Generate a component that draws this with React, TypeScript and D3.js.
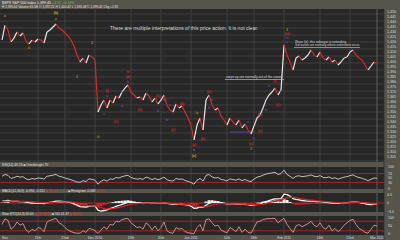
import React from "react";
import * as d3 from "d3";

const closes = [
  1422,1437,1432,1420,1424,1430,1426,1429,1421,1418,
  1422,1420,1423,1422,1419,1430,1432,1435,1438,1434,
  1432,1429,1426,1422,1416,1407,1400,1404,1399,1407,
  1405,1402,1350,1357,1362,1354,1362,1359,1366,1364,
  1370,1374,1377,1370,1367,1364,1365,1362,1369,1366,
  1360,1364,1358,1362,1367,1357,1352,1350,1358,1354,
  1356,1350,1344,1337,1322,1337,1344,1332,1362,1367,
  1357,1352,1354,1346,1342,1337,1344,1340,1337,1342,
  1334,1338,1332,1328,1336,1344,1347,1354,1362,1367,
  1370,1374,1367,1372,1417,1407,1400,1392,1404,1406,
  1402,1404,1407,1412,1407,1405,1410,1404,1402,1405,
  1400,1402,1397,1400,1404,1405,1410,1412,1407,1404,
  1402,1397,1392,1396,1400,1399,
];

const rsi = [
  58,66,62,48,52,58,54,56,46,42,
  48,45,50,49,45,58,60,63,66,58,
  55,50,46,42,37,32,30,38,34,46,
  44,40,22,35,42,36,46,44,52,50,
  56,60,62,52,48,45,47,44,54,50,
  43,48,42,47,54,42,38,36,48,44,
  46,39,34,30,22,40,48,36,62,66,
  55,50,52,44,41,37,46,43,40,46,
  38,43,37,34,45,54,57,63,68,71,
  73,76,66,70,86,66,58,48,58,60,
  56,58,60,64,58,56,61,53,51,55,
  48,51,45,49,54,56,61,64,57,52,
  49,44,38,44,50,49,
];

const macd = [
  0.6,0.8,0.9,0.7,0.6,0.6,0.5,0.5,0.3,0.1,
  0.0,-0.1,-0.1,-0.1,-0.2,0.0,0.2,0.4,0.7,0.7,
  0.6,0.5,0.3,0.1,-0.3,-0.8,-1.3,-1.4,-1.5,-1.2,
  -1.0,-1.0,-2.6,-2.9,-2.7,-2.5,-2.0,-1.7,-1.2,-0.9,
  -0.5,-0.1,0.3,0.3,0.2,0.1,0.1,0.0,0.1,0.1,
  0.0,0.0,-0.1,-0.1,0.0,-0.1,-0.3,-0.5,-0.5,-0.5,
  -0.5,-0.6,-0.8,-1.1,-1.9,-1.8,-1.5,-1.6,-0.8,-0.1,
  0.2,0.3,0.3,0.1,-0.1,-0.3,-0.3,-0.3,-0.4,-0.4,
  -0.5,-0.5,-0.6,-0.8,-0.7,-0.5,-0.3,0.1,0.5,0.9,
  1.2,1.5,1.5,1.6,3.2,3.0,2.5,1.6,1.3,1.1,
  0.9,0.8,0.7,0.7,0.6,0.5,0.5,0.4,0.2,0.1,
  0.0,0.0,-0.1,-0.1,0.0,0.1,0.2,0.3,0.3,0.2,
  0.0,-0.2,-0.5,-0.6,-0.5,-0.4,
];

const signal = [
  0.5,0.6,0.6,0.7,0.7,0.7,0.6,0.6,0.6,0.5,
  0.4,0.3,0.2,0.1,0.1,0.0,0.1,0.1,0.2,0.3,
  0.4,0.4,0.4,0.3,0.2,0.0,-0.3,-0.5,-0.8,-1.0,
  -1.0,-1.0,-1.3,-1.7,-2.0,-2.1,-2.1,-2.0,-1.8,-1.6,
  -1.3,-1.0,-0.7,-0.5,-0.3,-0.2,-0.1,0.0,0.0,0.0,
  0.0,0.0,0.0,0.0,0.0,0.0,-0.1,-0.2,-0.3,-0.4,
  -0.4,-0.5,-0.6,-0.7,-0.9,-1.1,-1.3,-1.4,-1.3,-1.1,
  -0.8,-0.5,-0.3,-0.2,-0.2,-0.2,-0.2,-0.3,-0.3,-0.3,
  -0.4,-0.4,-0.5,-0.5,-0.6,-0.6,-0.5,-0.4,-0.2,0.1,
  0.4,0.6,0.9,1.1,1.5,1.9,2.1,2.0,1.9,1.7,
  1.5,1.3,1.1,1.0,0.9,0.8,0.7,0.6,0.5,0.4,
  0.3,0.2,0.1,0.0,0.0,0.0,0.1,0.1,0.2,0.2,
  0.2,0.1,0.0,-0.2,-0.3,-0.4,
];

const stoch = [
  60,95,85,30,45,75,55,65,25,10,
  30,20,40,35,15,75,85,92,98,70,
  60,40,25,15,8,5,5,20,10,35,
  30,20,3,25,45,30,60,55,80,75,
  90,95,98,70,55,40,45,30,70,55,
  25,50,20,40,75,20,8,5,40,30,
  35,15,8,5,2,40,60,20,90,95,
  70,50,55,25,15,8,40,30,15,45,
  10,30,10,5,40,75,80,90,95,96,
  97,98,70,85,98,60,35,10,50,60,
  45,55,65,80,55,45,70,40,30,55,
  20,35,15,30,55,70,85,92,60,35,
  25,10,5,30,55,50,
];

const dateTickIdx = [0, 12, 21, 31, 43, 53, 63, 75, 84, 94, 106, 116, 125];
const dateTickLabels = ["Nov", "15th", "22nd", "Dec 2010", "13th", "20th", "Jan 2011", "10th", "18th", "Feb 2011", "14th", "22nd", "Mar 2011"];
const gridIdx = [12, 21, 31, 43, 53, 63, 75, 84, 94, 106, 116, 125];

const priceTicks = d3.range(1305, 1451, 5);
const priceGrid = d3.range(1448, 1300, -7);
const rsiTicks = [100, 70, 50, 30, 0];
const rsiBands = [70, 30];
const macdTicks = [3, 0, -3];
const stochTicks = [100, 50, 0];
const stochBands = [80, 20];

const waveIdx = [1, 9, 18, 18, 25, 30, 42, 42, 42, 35, 35, 34, 38, 32, 40, 40, 46, 52, 52, 54, 56, 60, 55, 57, 65, 64, 64, 64, 69, 70, 67, 69, 91, 89, 93, 92, 86, 88, 86, 83, 83, 82, 84, 95, 95, 95, 95];
const wavePrice = [1446, 1414, 1449, 1443, 1385, 1419, 1390, 1385, 1380, 1371, 1366, 1348, 1340, 1325, 1370, 1356, 1352, 1366, 1351, 1362, 1357, 1358, 1342, 1332, 1349, 1317, 1312, 1306, 1370, 1362, 1323, 1354, 1381, 1376, 1371, 1357, 1347, 1352, 1331, 1318, 1313, 1340, 1324, 1432, 1428, 1424, 1420];
const waveText = ["a", "b", "(b)", "c", "1", "2", "iv", "(a)", "b", "(i)", "a", "c", "(ii)", "iii", "c", "a", "(b)", "(c)", "b", "a", "c", "(d)", "b", "(e)", "iv", "(a)", "v", "(c)", "(a)", "a", "(b)", "b", "(i)", "a", "c", "(ii)", "(b)", "b", "(c)", "(c)", "2", "a", "c", "3", "(iii)", "iii", "c"];
const waveKind = ["o", "o", "y", "o", "o", "o", "r", "r", "p", "r", "p", "p", "r", "o", "p", "p", "r", "r", "p", "p", "p", "r", "p", "r", "o", "r", "o", "y", "r", "p", "r", "p", "r", "p", "p", "r", "r", "p", "r", "r", "o", "p", "p", "o", "r", "p", "p"];
const waveColors: Record<string, string> = { o: "#c8782a", r: "#d02a2a", p: "#7040b0", y: "#c8b030" };

const channelIdx = [76, 84];
const channelPrice = [1330, 1330];

const FRAME = "#57544c";
const PANEL = "#272727";
const GRID = "#454545";
const FONT = "Liberation Sans, Arial, sans-serif";

export default function App() {
  const N = closes.length;
  const x = d3.scaleLinear().domain([0, N - 1]).range([2, 377]);
  const yMain = d3.scaleLinear().domain([1305, 1450]).range([157, 12]);
  const yRsi = d3.scaleLinear().domain([0, 100]).range([189, 167]);
  const yMacd = d3.scaleLinear().domain([-3.6, 3.6]).range([213, 193]);
  const yStoch = d3.scaleLinear().domain([0, 100]).range([234, 218]);

  const rsiLine = d3.line<number>().x((_, i) => x(i)).y((d) => yRsi(d));
  const macdLine = d3.line<number>().x((_, i) => x(i)).y((d) => yMacd(d));
  const stochLine = d3.line<number>().x((_, i) => x(i)).y((d) => yStoch(d));

  const panels = [
    [9, 162],
    [167, 189],
    [193, 212],
    [216, 235],
  ];

  return (
    <svg width={400} height={240} style={{ position: "absolute", left: 0, top: 0, fontFamily: FONT }}>
      <rect x={0} y={0} width={400} height={240} fill={FRAME} />
      {panels.map(([a, b], k) => (
        <rect key={k} x={0} y={a} width={384} height={b - a} fill={PANEL} />
      ))}
      {priceGrid.map((v) => (
        <line key={v} x1={0} x2={384} y1={yMain(v)} y2={yMain(v)} stroke={GRID} strokeWidth={0.8} />
      ))}
      {panels.map(([a, b], k) =>
        gridIdx.map((i) => (
          <line key={k + "-" + i} x1={x(i)} x2={x(i)} y1={a} y2={b} stroke={i === 125 ? "#6a6a6a" : GRID} strokeWidth={0.8} />
        ))
      )}
      <line x1={384} x2={384} y1={9} y2={240} stroke="#2e2e2e" strokeWidth={0.8} />
      {priceTicks.map((v) => (
        <text key={v} x={387} y={yMain(v) + 1.3} fontSize={3.6} fill="#dedede">
          {d3.format(",")(v)}
        </text>
      ))}
      <line x1={x(channelIdx[0])} x2={x(channelIdx[1])} y1={yMain(channelPrice[0])} y2={yMain(channelPrice[1])} stroke="#7040b0" strokeWidth={0.9} />
      {closes.slice(1).map((c, k) => {
        const p = closes[k];
        const up = c >= p;
        return (
          <line key={k} x1={x(k)} y1={yMain(p)} x2={x(k + 1)} y2={yMain(c)} stroke={up ? "#ece4e4" : "#d42a2a"} strokeWidth={1.2} />
        );
      })}
      {waveIdx.map((i, k) => (
        <text key={k} x={x(i)} y={yMain(wavePrice[k]) + 1.3} fontSize={3.4} fontWeight="bold" textAnchor="middle" fill={waveColors[waveKind[k]]}>
          {waveText[k]}
        </text>
      ))}
      <text x={110} y={30} fontSize={4.6} fill="#d4d4d4" textLength={148} lengthAdjust="spacingAndGlyphs">
        There are multiple interpretations of this price action. It is not clear.
      </text>
      <text x={295} y={42.5} fontSize={3.4} fill="#d4d4d4" textLength={52} lengthAdjust="spacingAndGlyphs">
        Wave (iii): this subwave is extending,
      </text>
      <text x={295} y={46} fontSize={3.4} fill="#d4d4d4" textLength={65} lengthAdjust="spacingAndGlyphs">
        3rd waves are normally where extensions occur.
      </text>
      <line x1={294} x2={360} y1={47.5} y2={47.5} stroke="#cfcfcf" strokeWidth={0.6} />
      <text x={226} y={78} fontSize={3.4} fill="#d4d4d4" textLength={57} lengthAdjust="spacingAndGlyphs">
        steps up are normally out of the cause.
      </text>
      <line x1={225} x2={284} y1={79.5} y2={79.5} stroke="#cfcfcf" strokeWidth={0.6} />

      <text x={2} y={4} fontSize={3.6} fill="#f0f0f0">
        $SPX S&amp;P 500 Index   1,399.45 <tspan fill="#4fd24f">+1.92  +0.14%</tspan>
      </text>
      <text x={2} y={8} fontSize={3.4} fill="#e6e6e6" textLength={116} lengthAdjust="spacingAndGlyphs">
        H 1,399.64  Volume 63.1M  O 1,397.21  H 1,400.42  L 1,396.48  C 1,399.45  Chg +1.92
      </text>

      <text x={2} y={166} fontSize={3.3} fill="#e0e0e0">RSI(14) 49.26 ■ Overbought 70</text>
      {rsiBands.map((v) => (
        <line key={v} x1={0} x2={384} y1={yRsi(v)} y2={yRsi(v)} stroke="#c41e1e" strokeWidth={0.9} />
      ))}
      <path d={rsiLine(rsi) || ""} fill="none" stroke="#bdbdbd" strokeWidth={1} />
      {rsiTicks.map((v) => (
        <text key={v} x={388} y={yRsi(v) + 1.3} fontSize={3.5} fill="#dedede">{v}</text>
      ))}

      <text x={2} y={192} fontSize={3.2} fill="#e0e0e0">
        MACD(12,26,9) -0.394, -0.312 <tspan fill="#e03030">■ Signal -0.312</tspan> ■ Histogram -0.082 <tspan fill="#e03030">■ Zero</tspan>
      </text>
      <line x1={0} x2={384} y1={yMacd(0)} y2={yMacd(0)} stroke="#c41e1e" strokeWidth={0.9} />
      {macd.map((m, i) => {
        const h = m - signal[i];
        return (
          <rect key={i} x={x(i) - 1.5} width={3} y={Math.min(yMacd(0), yMacd(h))} height={Math.abs(yMacd(h) - yMacd(0))} fill={h >= 0 ? "#f2f2f2" : "#d42222"} />
        );
      })}
      <path d={macdLine(macd) || ""} fill="none" stroke="#f4f4f4" strokeWidth={1.3} />
      <path d={macdLine(signal) || ""} fill="none" stroke="#d42222" strokeWidth={1.3} />
      {macdTicks.map((v) => (
        <text key={v} x={387} y={yMacd(v) + 1.3} fontSize={3.5} fill="#dedede">{v === 0 ? "0" : d3.format(".1f")(v)}</text>
      ))}

      <text x={2} y={215} fontSize={3.2} fill="#e0e0e0">
        Slow STO(14,3) 50.00 <tspan fill="#e03030">■ %K 50.00</tspan> ■ %D 41.37 <tspan fill="#e03030">■ 80/20</tspan>
      </text>
      {stochBands.map((v) => (
        <line key={v} x1={0} x2={384} y1={yStoch(v)} y2={yStoch(v)} stroke="#c41e1e" strokeWidth={0.9} />
      ))}
      <path d={stochLine(stoch) || ""} fill="none" stroke="#c98a8a" strokeWidth={1} />
      {stochTicks.map((v) => (
        <text key={v} x={388} y={yStoch(v) + 1.3} fontSize={3.5} fill="#dedede">{v}</text>
      ))}

      {dateTickIdx.map((i, k) => (
        <text key={k} x={x(i)} y={239.3} fontSize={3.3} fill="#dedede" textAnchor={k === 0 ? "start" : "middle"}>
          {dateTickLabels[k]}
        </text>
      ))}
    </svg>
  );
}
